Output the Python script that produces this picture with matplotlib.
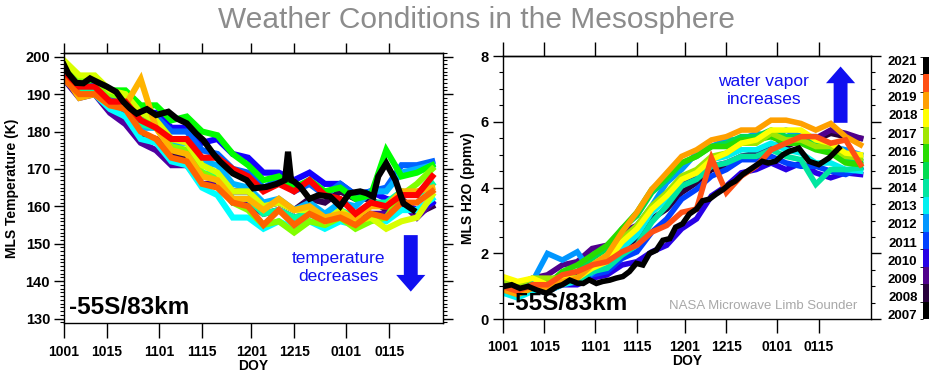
import numpy as np
import matplotlib
matplotlib.use("Agg")
from matplotlib import pyplot as plt
from matplotlib.colors import ListedColormap, BoundaryNorm
from matplotlib.cm import ScalarMappable

plt.rcParams['font.family'] = ['Liberation Sans', 'DejaVu Sans']

# days since Oct 1, sampled every 5 days
days = np.arange(0, 121, 5)
tick_days = [0, 14, 31, 45, 61, 75, 92, 106]
tick_labels = ['1001', '1015', '1101', '1115', '1201', '1215', '0101', '0115']
years = list(range(2008, 2022))
cbar_years = list(range(2007, 2022))

# MLS temperature (K) at -55S/83km
T_2008 = [195,190,191,187,185,179,178,174,173,168,168,164,164,160,161,159,162,161,164,162,162,159,162,158,160]
T_2009 = [194,189,190,185,182,177,175,171,171,166,166,161,161,158,159,157,158,157,158,157,158,158,161,157,161]
T_2010 = [195,191,192,189,189,185,185,181,181,177,178,174,173,169,169,167,169,166,166,163,164,162,161,159,161]
T_2011 = [196,192,193,189,189,184,184,180,180,175,174,170,169,165,167,164,166,163,166,163,164,165,171,171,172]
T_2012 = [195,191,191,187,186,181,181,177,177,172,171,166,165,161,162,159,161,158,161,160,164,164,169,170,171]
T_2013 = [194,190,190,186,184,178,177,172,171,165,163,157,157,154,156,154,156,154,156,155,157,156,159,159,162]
T_2014 = [196,191,191,188,187,182,181,176,175,169,168,162,162,158,159,157,158,156,159,157,161,161,164,163,166]
T_2015 = [197,193,194,191,191,187,187,183,184,180,179,174,171,167,168,165,167,164,165,162,163,175,168,169,171]
T_2016 = [198,194,194,190,189,183,182,176,175,169,167,161,159,155,156,153,156,155,157,154,156,157,163,166,170]
T_2017 = [199,195,195,191,190,185,183,178,177,171,169,164,164,160,161,159,159,156,159,156,157,154,156,157,163]
T_2018 = [195,189,190,187,187,194,181,175,174,168,167,162,162,159,162,159,160,157,158,157,160,160,164,164,165]
T_2019 = [194,190,190,187,186,180,178,173,172,166,165,161,160,155,159,155,158,156,157,155,158,157,161,161,164]
T_2020 = [196,192,192,188,188,183,181,178,178,173,173,170,168,164,166,164,167,163,162,158,161,160,163,163,168]
# 2021 traced on its own day list
days_T_2021 = [0,1.4,4,6.3,8.5,11.7,14,17,19.3,21.5,23.7,27,30,34,36.7,40,43,45.4,48.7,50.8,55,59.5,
               61.7,66,69.3,72,73,74,75,77,80,83,86.7,90,93,96.5,98.6,100.8,102.4,105,108,110.6,113.8]
T_2021 = [197.8,195.5,193,192.9,194.2,192.9,192,190.6,188,186.2,184.8,186,184.4,185.3,183.5,182.2,179.5,
          177.7,174,172,168.8,167,164.8,165.2,166,167,174.6,167,166.6,165.2,162,163,162.6,160,163.5,164,
          163.5,162.6,168,171.5,167,160.8,159]

# MLS H2O (ppmv) at -55S/83km
W_2008 = [1.1,0.95,1.15,1.15,1.35,1.35,1.65,1.75,2.15,2.45,3.05,3.35,3.85,4.15,4.55,4.65,4.95,5.05,5.25,5.25,5.45,5.45,5.65,5.55,5.5]
W_2009 = [1.2,1.05,1.25,1.35,1.65,1.75,2.15,2.25,2.65,2.85,3.35,3.65,4.15,4.35,4.65,4.75,4.95,4.95,5.25,5.35,5.55,5.5,5.75,5.65,5.5]
W_2010 = [0.9,0.75,0.85,0.85,1.05,1.05,1.25,1.35,1.65,1.75,2.05,2.25,2.75,3.05,3.75,4.05,4.45,4.55,4.75,4.55,4.75,4.45,4.3,4.45,4.4]
W_2011 = [1.0,0.85,0.95,0.95,1.15,1.15,1.35,1.45,1.85,2.05,2.65,3.05,3.65,3.95,4.35,4.55,4.85,4.85,4.95,4.75,4.65,4.65,4.5,4.4,4.6]
W_2012 = [1.0,0.95,1.15,2.0,1.8,2.05,1.4,1.75,2.15,2.85,3.45,4.15,4.55,5.05,5.25,5.45,5.45,5.65,5.55,5.75,5.55,5.55,5.25,5.15,5.0]
W_2013 = [0.8,0.65,0.85,0.85,1.05,1.15,1.45,1.65,2.15,2.55,3.25,3.65,4.25,4.45,4.85,4.95,5.15,5.15,5.35,5.15,5.05,4.75,4.75,4.55,4.5]
W_2014 = [0.9,0.75,0.95,0.95,1.15,1.15,1.45,1.55,1.95,2.25,2.95,3.45,4.05,4.25,4.65,4.75,4.95,4.95,5.15,4.95,4.85,4.1,4.55,4.55,4.6]
W_2015 = [0.9,0.85,1.05,1.05,1.35,1.45,1.85,2.15,2.75,3.15,3.85,4.25,4.75,4.95,5.25,5.35,5.55,5.55,5.75,5.55,5.55,5.35,5.15,4.85,4.8]
W_2016 = [1.0,0.85,1.05,1.05,1.45,1.65,1.95,2.25,2.75,3.25,3.95,4.35,4.75,4.95,5.25,5.25,5.45,5.45,5.55,5.35,5.35,5.15,5.05,4.75,4.7]
W_2017 = [1.2,1.05,1.25,1.25,1.25,1.25,1.65,1.95,2.45,2.85,3.45,3.85,4.35,4.55,4.95,5.05,5.35,5.35,5.65,5.45,5.45,5.25,5.25,4.95,4.9]
W_2018 = [1.3,1.15,1.25,1.05,1.25,1.25,1.55,1.75,2.35,2.75,3.35,3.75,4.25,4.45,4.85,5.05,5.35,5.45,5.75,5.75,5.75,5.45,5.35,5.05,5.0]
W_2019 = [0.9,0.75,0.95,0.95,1.15,1.25,1.65,1.95,2.65,3.25,3.95,4.45,4.95,5.15,5.45,5.55,5.75,5.75,6.05,6.05,5.95,5.75,5.95,5.55,5.3]
W_2020 = [1.0,0.85,1.05,1.05,1.35,1.45,1.65,1.75,2.05,2.25,2.65,2.85,3.25,3.35,4.9,3.85,4.35,4.65,5.15,5.35,5.55,5.55,5.35,5.45,4.7]
days_W_2021 = [0,3,5.8,8.5,11.4,14.7,18,20,22.5,25,27,29,31.4,33.5,35.9,38,40.3,42.5,44.8,47,49.2,51.5,
               53.7,56,58,60.3,62.6,65,67,69.3,71.5,74,76,78,80.4,83.7,87,89,91.5,94,96,99.3,102.7,106,
               109.4,112.7]
W_2021 = [0.99,1.05,0.94,1.0,0.89,0.79,0.99,1.05,1.19,1.1,1.09,1.2,1.09,1.15,1.19,1.25,1.3,1.45,1.7,1.65,
          2.0,2.1,2.4,2.45,2.8,2.9,3.2,3.35,3.6,3.65,3.8,3.95,4.1,4.2,4.4,4.6,4.8,4.75,4.8,5.0,5.1,5.2,
          4.8,4.7,4.9,5.2]

temps = [T_2008, T_2009, T_2010, T_2011, T_2012, T_2013, T_2014,
         T_2015, T_2016, T_2017, T_2018, T_2019, T_2020]
h2o = [W_2008, W_2009, W_2010, W_2011, W_2012, W_2013, W_2014,
       W_2015, W_2016, W_2017, W_2018, W_2019, W_2020]

# colours per season
colors_t = ['#32004f', '#5000a0', '#1400ff', '#0064ff', '#00b4ff', '#00ffff', '#00ffa0',
            '#00ff00', '#80ff00', '#d8ff00', '#ffb400', '#ff6400', '#ff0000', '#000000']
colors_cb = ['#000000', '#28003c', '#50008c', '#2800e6', '#0040ff', '#0096ff', '#00f0f0', '#00e6a0',
             '#00dc50', '#28dc00', '#a0e600', '#ffff00', '#ffa000', '#ff5014', '#000000']
colors_w = colors_cb[1:]

blue = '#1010f0'
W, H = 939, 382

fig = plt.figure(figsize=(W / 100, H / 100), dpi=100)
ax1 = fig.add_axes([64 / W, 1 - 323 / H, 379 / W, 270 / H])
ax2 = fig.add_axes([502.7 / W, 1 - 319.3 / H, 368.3 / W, 263.3 / H])
cax = fig.add_axes([923 / W, 1 - 319 / H, 6 / W, 262 / H])

for i in range(len(temps)):
    ax1.plot(days, temps[i], color=colors_t[i], lw=4.4, solid_joinstyle='miter')
    ax2.plot(days, h2o[i], color=colors_w[i], lw=4.0, solid_joinstyle='miter')
ax1.plot(days_T_2021, T_2021, color=colors_t[-1], lw=4.4, solid_joinstyle='miter')
ax2.plot(days_W_2021, W_2021, color=colors_w[-1], lw=4.0, solid_joinstyle='miter')


def style(ax, ylim, yticks, minor, blen, tlen):
    ax.set_xlim(0, 123.5)
    ax.set_ylim(*ylim)
    ax.set_xticks(tick_days)
    ax.set_xticklabels(tick_labels)
    ax.set_yticks(yticks)
    ax.yaxis.set_minor_locator(matplotlib.ticker.MultipleLocator(minor))
    ax.tick_params(axis='x', direction='out', length=blen, width=1, pad=5, labelsize=10)
    ax.tick_params(axis='y', which='major', direction='out', length=7, width=1, right=True, pad=3, labelsize=10.5)
    ax.tick_params(axis='y', which='minor', direction='out', length=3, width=0.8, right=True)
    for lab in ax.get_xticklabels() + ax.get_yticklabels():
        lab.set_fontweight('bold')
    top = ax.secondary_xaxis('top')
    top.set_xticks(tick_days)
    top.tick_params(axis='x', direction='out', length=tlen, width=1, labeltop=False)
    for sp in list(ax.spines.values()) + list(top.spines.values()):
        sp.set_linewidth(1)
    ax.set_xlabel('DOY', fontsize=10, fontweight='bold', labelpad=0)


style(ax1, (128.8, 201), np.arange(130, 201, 10), 1, 11, 7)
style(ax2, (0, 8), np.arange(0, 9, 2), 0.5, 10, 10)

fig.text(11.7 / W, 1 - 188 / H, 'MLS Temperature (K)', rotation=90, ha='center', va='center',
         fontsize=10, fontweight='bold')
fig.text(468 / W, 1 - 188 / H, 'MLS H2O (ppmv)', rotation=90, ha='center', va='center',
         fontsize=10, fontweight='bold')

for ax in (ax1, ax2):
    ax.text(0.012, 0.015, '-55S/83km', transform=ax.transAxes, ha='left', va='bottom',
            fontsize=17.5, fontweight='bold')

ax2.text(0.962, 0.04, 'NASA Microwave Limb Sounder', transform=ax2.transAxes, ha='right',
         va='baseline', fontsize=9.5, color='#a8a8a8')

arrow = dict(arrowstyle='simple,head_width=21,head_length=12,tail_width=10',
             mutation_scale=1, color=blue, shrinkA=0, shrinkB=0, lw=0)
ax1.annotate('', xy=(113, 137.2), xytext=(113, 152.3), arrowprops=arrow)
ax1.text(89.3, 143.6, 'temperature\ndecreases', ha='center', va='center', color=blue,
         fontsize=12.5, linespacing=1.25)
ax2.annotate('', xy=(113.3, 7.68), xytext=(113.3, 5.97), arrowprops=arrow)
ax2.text(87.6, 6.95, 'water vapor\nincreases', ha='center', va='center', color=blue,
         fontsize=12.5, linespacing=1.25)

# discrete year colour bar
cmap = ListedColormap(colors_cb)
norm = BoundaryNorm(np.arange(16), cmap.N)
cb = fig.colorbar(ScalarMappable(norm=norm, cmap=cmap), cax=cax)
cb.outline.set_visible(False)
cb.set_ticks(np.linspace(0.25, 14.8, 15))
cb.set_ticklabels([str(y) for y in cbar_years])
cax.yaxis.set_ticks_position('left')
cax.tick_params(length=0, pad=4, labelsize=9.5)
for lab in cax.get_yticklabels():
    lab.set_fontweight('bold')

fig.text(476 / W, 1 - 20 / H, 'Weather Conditions in the Mesosphere', ha='center', va='center',
         fontsize=21.5, color='#8c8c8c')

fig.savefig('out.png', dpi=100)
